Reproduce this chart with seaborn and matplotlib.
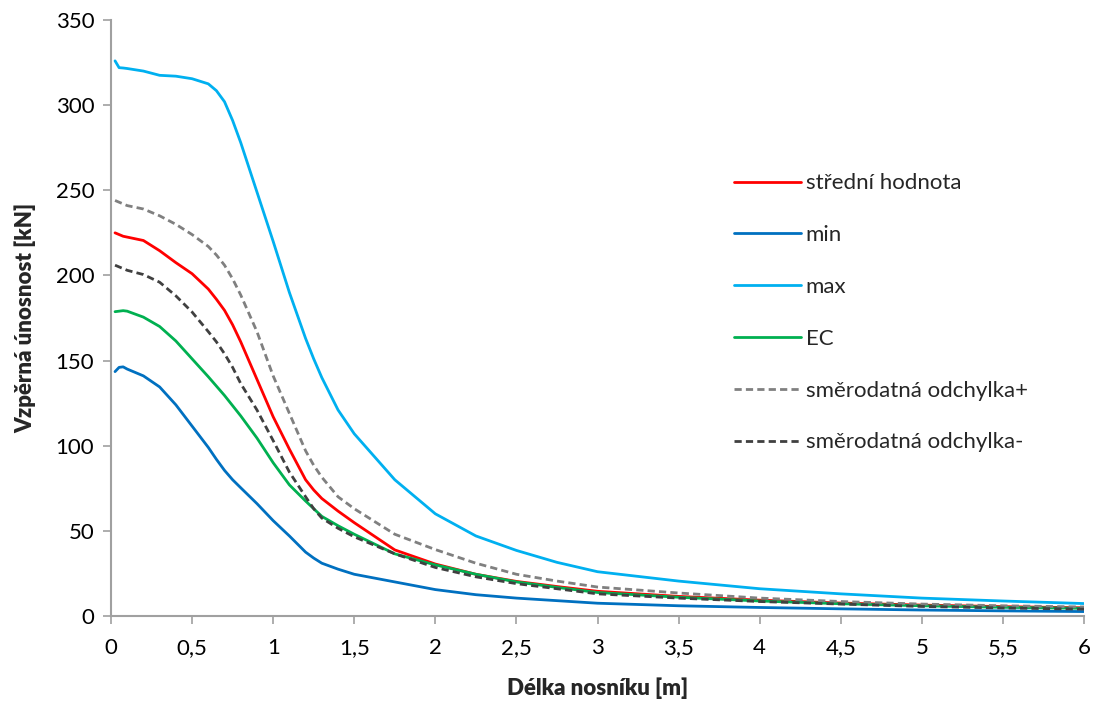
import numpy as np
import pandas as pd
import matplotlib
matplotlib.use("Agg")
import matplotlib.pyplot as plt
import seaborn as sns

x_m = [0.025, 0.05, 0.075, 0.1, 0.2, 0.3, 0.4, 0.5, 0.6, 0.65, 0.7, 0.75, 0.8, 0.9, 1.0, 1.1, 1.2, 1.25, 1.3,
       1.4, 1.5, 1.75, 2.0, 2.25, 2.5, 2.75, 3.0, 3.5, 4.0, 4.5, 5.0, 5.5, 6.0]

stredni = [225, 224, 223, 222.5, 220.5, 214.5, 207.5, 201, 192, 186, 179.5, 171, 161, 139, 117, 98, 80, 74, 69,
           61.6, 54.8, 38.8, 30.5, 24.5, 20.3, 17.3, 14.5, 11.5, 9.3, 7.6, 6.4, 5.5, 4.8]
minimum = [143.5, 146, 146.3, 145, 141, 134.5, 124, 111.5, 99, 92, 85.5, 80, 75.3, 66, 56, 47, 37.5, 34, 31,
           27.5, 24.5, 20, 15.5, 12.5, 10.5, 9, 7.5, 6, 5, 4.2, 3.5, 3, 2.6]
maximum = [326, 322, 321.8, 321.5, 320, 317.5, 317, 315.5, 312.5, 308.5, 302, 291, 278, 249, 220, 190, 163, 151, 140,
           121, 107, 80, 60, 47, 38.5, 31.5, 26, 20.5, 16, 13, 10.5, 8.8, 7.3]
ec = [178.7, 179, 179.3, 179, 175.5, 170, 161.5, 151, 140.5, 135, 129.5, 123.5, 117.5, 104.5, 90, 77, 67.5, 63, 58.5,
      53, 48, 36.5, 30, 24.5, 20, 16.8, 13.8, 11, 8.8, 7.2, 6, 5.1, 4.5]
odch_plus = [244, 243, 242, 241, 239, 235, 230, 224, 217, 212, 206, 198, 188.5, 167, 141, 119, 97, 88.5, 81.5,
             70, 63, 48, 39, 31, 24.5, 20.5, 17, 13.5, 10.5, 8.5, 7.0, 6.0, 5.3]
odch_minus = [206, 205, 204, 203, 200.5, 196, 188, 178.5, 167, 161, 154, 146, 136.5, 121, 103, 84.5, 70, 63, 57.5,
              51.5, 46.5, 36.5, 28.5, 23, 19, 16, 13, 10.5, 8.5, 7, 5.6, 4.7, 4]

series_names = ["střední hodnota", "min", "max", "EC", "směrodatná odchylka+", "směrodatná odchylka-"]
series_vals = [stredni, minimum, maximum, ec, odch_plus, odch_minus]
colors = ["#FF0000", "#0070C0", "#00B0F0", "#00B050", "#808080", "#404040"]
x_ticks = [0, 0.5, 1, 1.5, 2, 2.5, 3, 3.5, 4, 4.5, 5, 5.5, 6]
x_tick_labels = ["0", "0,5", "1", "1,5", "2", "2,5", "3", "3,5", "4", "4,5", "5", "5,5", "6"]
y_ticks = [0, 50, 100, 150, 200, 250, 300, 350]

df = pd.concat([pd.DataFrame({"x": x_m, "y": v, "série": n}) for n, v in zip(series_names, series_vals)],
               ignore_index=True)

sns.set_theme(style="white")
plt.rcParams['font.family'] = ['Lato', 'DejaVu Sans']

fig = plt.figure(figsize=(11.01, 7.06), dpi=100)
ax = fig.add_axes([0.1008, 0.1275, 0.8838, 0.8442])

palette = dict(zip(series_names, colors))
dashes = {n: "" for n in series_names}
dashes["směrodatná odchylka+"] = (2.6, 1.5)
dashes["směrodatná odchylka-"] = (2.6, 1.5)

sns.lineplot(data=df, x="x", y="y", hue="série", style="série", palette=palette, dashes=dashes,
             hue_order=series_names, style_order=series_names, linewidth=2.0, ax=ax, legend=True)

ax.set_xlim(0, 6)
ax.set_ylim(0, 350)
ax.set_xticks(x_ticks)
ax.set_xticklabels(x_tick_labels)
ax.set_yticks(y_ticks)
ax.tick_params(axis="both", labelsize=16, colors="#000000", length=6, width=1.2, direction="out",
               bottom=True, left=True)
ax.tick_params(axis="x", pad=10)
ax.tick_params(axis="y", pad=6)
ax.tick_params(axis="both", color="#A0A0A0")
for s in ["top", "right"]:
    ax.spines[s].set_visible(False)
for s in ["left", "bottom"]:
    ax.spines[s].set_color("#A0A0A0")
    ax.spines[s].set_linewidth(1.5)

ax.set_xlabel("Délka nosníku [m]", fontsize=16, fontweight="heavy", labelpad=14)
ax.set_ylabel("Vzpěrná únosnost [kN]", fontsize=16, fontweight="heavy", labelpad=14)

handles, labels = ax.get_legend_handles_labels()
leg = ax.legend(handles, labels, loc="upper left", bbox_to_anchor=(0.620, 0.776), frameon=False,
                fontsize=16, handlelength=3.0, labelspacing=1.43, handletextpad=0.22)
for h in leg.get_lines():
    h.set_linewidth(2.0)

fig.savefig("out.png", dpi=100)
